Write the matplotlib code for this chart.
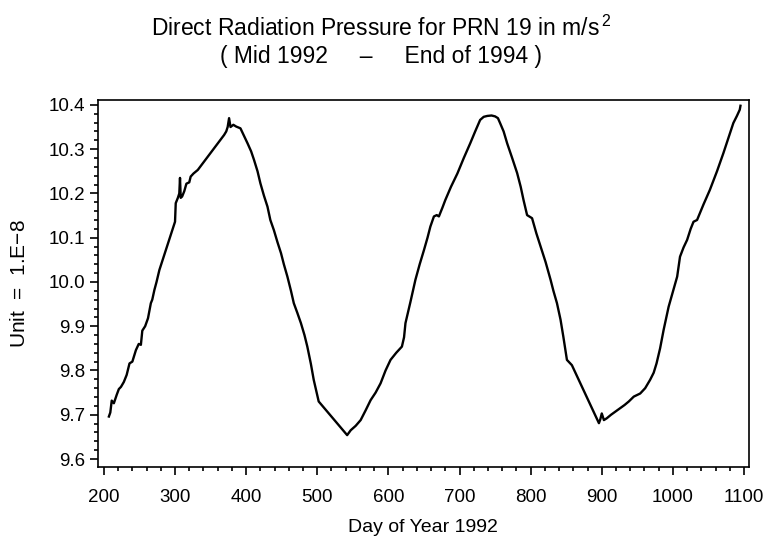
import matplotlib
matplotlib.use('Agg')
import matplotlib.pyplot as plt
from matplotlib.ticker import MultipleLocator

plt.rcParams['font.family'] = ['Liberation Sans', 'DejaVu Sans']
plt.rcParams['mathtext.fontset'] = 'custom'
plt.rcParams['mathtext.rm'] = 'Liberation Sans'
plt.rcParams['mathtext.default'] = 'regular'

# day of year 1992 vs direct radiation pressure (unit 1.E-8 m/s^2)
days = [207, 209, 211, 214, 218, 221, 224, 228, 232, 236, 240, 245, 249, 252, 254,
        258, 262, 266, 268, 271, 274, 278, 300, 301, 304, 306, 307, 308, 310, 313,
        316, 320, 322, 326, 332, 369, 372, 374, 376, 378, 382, 386, 392, 397, 402,
        407, 411, 416, 420, 425, 430, 434, 439, 444, 449, 453, 458, 463, 467, 472,
        477, 482, 486, 491, 495, 502, 542, 547, 554, 561, 568, 575, 582, 589, 596,
        603, 611, 619, 622, 624, 631, 638, 644, 650, 655, 659, 664, 668, 671, 676,
        680, 688, 697, 706, 715, 722, 729, 734, 739, 745, 750, 754, 757, 762, 767,
        774, 781, 786, 790, 795, 802, 808, 814, 821, 828, 832, 837, 842, 846, 851,
        858, 896, 898, 900, 903, 907, 913, 920, 926, 932, 938, 945, 950, 954, 961,
        968, 973, 977, 982, 987, 994, 1000, 1006, 1010, 1015, 1020, 1025, 1029, 1034,
        1043, 1052, 1062, 1071, 1078, 1085, 1090, 1094, 1095]
pressure = [9.696, 9.705, 9.732, 9.726, 9.745, 9.758, 9.763, 9.774, 9.79, 9.816, 9.82,
            9.846, 9.86, 9.858, 9.89, 9.9, 9.918, 9.952, 9.96, 9.982, 10.0, 10.027,
            10.136, 10.178, 10.19, 10.2, 10.235, 10.19, 10.193, 10.205, 10.222, 10.225,
            10.238, 10.245, 10.253, 10.332, 10.34, 10.35, 10.37, 10.35, 10.355, 10.351,
            10.347, 10.33, 10.313, 10.295, 10.276, 10.25, 10.223, 10.195, 10.17, 10.14,
            10.117, 10.09, 10.065, 10.04, 10.012, 9.98, 9.952, 9.93, 9.907, 9.88,
            9.854, 9.815, 9.779, 9.73, 9.654, 9.665, 9.675, 9.688, 9.71, 9.733, 9.75,
            9.771, 9.8, 9.824, 9.84, 9.854, 9.875, 9.907, 9.955, 10.005, 10.04, 10.072,
            10.1, 10.125, 10.148, 10.151, 10.148, 10.168, 10.185, 10.215, 10.245,
            10.28, 10.313, 10.34, 10.366, 10.373, 10.375, 10.376, 10.374, 10.37,
            10.359, 10.34, 10.313, 10.28, 10.246, 10.215, 10.185, 10.151, 10.144,
            10.11, 10.08, 10.045, 10.005, 9.98, 9.952, 9.915, 9.876, 9.824, 9.812,
            9.681, 9.69, 9.703, 9.688, 9.692, 9.7, 9.708, 9.715, 9.722, 9.73, 9.741,
            9.745, 9.748, 9.76, 9.779, 9.795, 9.816, 9.85, 9.892, 9.944, 9.978,
            10.012, 10.057, 10.078, 10.095, 10.12, 10.136, 10.14, 10.175, 10.208,
            10.25, 10.291, 10.325, 10.359, 10.375, 10.389, 10.398]

xticks = [200, 300, 400, 500, 600, 700, 800, 900, 1000, 1100]
yticks = [9.6, 9.7, 9.8, 9.9, 10.0, 10.1, 10.2, 10.3, 10.4]

fig = plt.figure(figsize=(7.63, 5.42), dpi=100)
ax = fig.add_axes([97.5 / 763, 1 - 467 / 542, (749 - 97.5) / 763, (467 - 100) / 542])

ax.plot(days, pressure, color='black', linewidth=1.7)

ax.set_xlim(191, 1107)
ax.set_ylim(9.582, 10.411)
ax.set_xticks(xticks)
ax.set_yticks(yticks)
ax.set_yticklabels(['%.1f' % v for v in yticks])
ax.xaxis.set_minor_locator(MultipleLocator(20))
ax.yaxis.set_minor_locator(MultipleLocator(0.02))
ax.tick_params(which='major', direction='out', length=6, width=1.2, labelsize=13.5, pad=3)
ax.tick_params(which='minor', direction='out', length=3, width=1.2)
ax.xaxis.set_tick_params(pad=10)
for s in ax.spines.values():
    s.set_linewidth(1.2)

ax.set_xlabel('Day of Year 1992', fontsize=14, labelpad=9)
ax.set_ylabel('Unit  =  1.E$-$8', fontsize=15, labelpad=14)

fig.text(0.5, 1 - 28 / 542, 'Direct Radiation Pressure for PRN 19 in m/s$^{\\,2}$',
         ha='center', va='center', fontsize=16.5)
fig.text(0.5, 1 - 57 / 542, '( Mid 1992     \u2013     End of 1994 )',
         ha='center', va='center', fontsize=16.5)

fig.savefig('out.png', dpi=100)
